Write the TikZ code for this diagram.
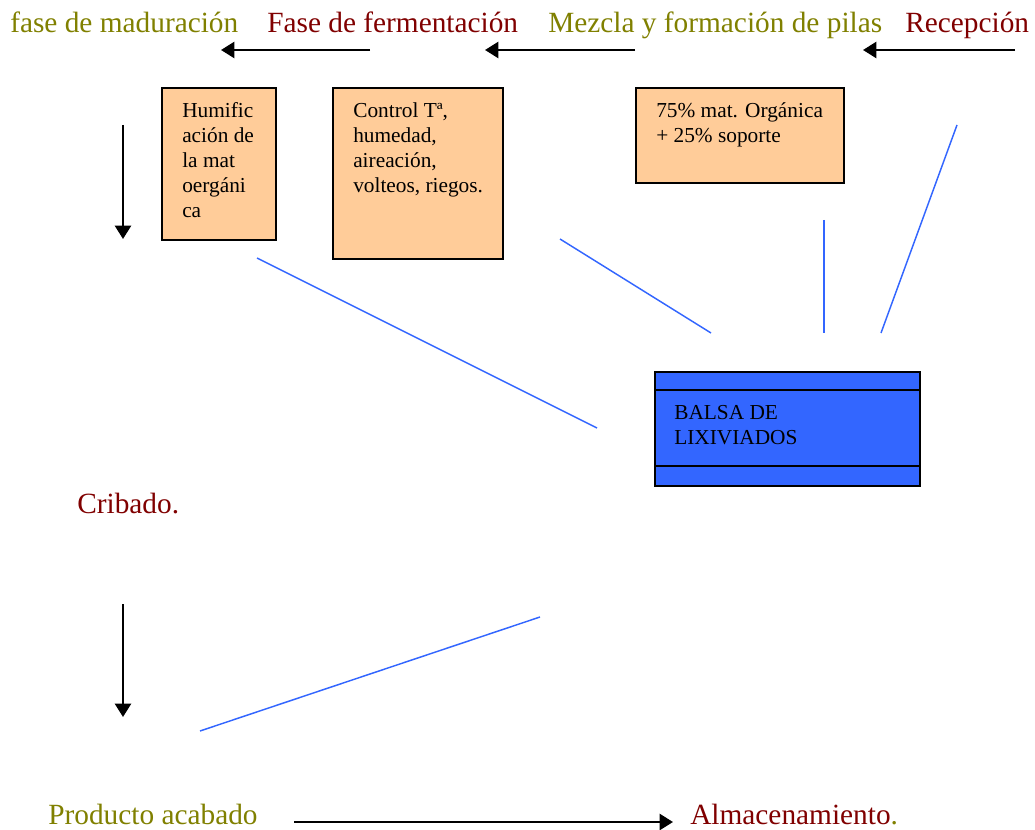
\documentclass[tikz,border=0pt]{standalone}
\usepackage{fontspec}
\setmainfont{Liberation Serif}
\usetikzlibrary{arrows.meta}
\definecolor{olivetxt}{RGB}{128,128,0}
\definecolor{redtxt}{RGB}{128,0,0}
\definecolor{boxfill}{RGB}{255,204,153}
\definecolor{balsafill}{RGB}{51,102,255}
\definecolor{bluelin}{RGB}{51,102,255}
\tikzset{
  stage/.style={anchor=base west, inner sep=0pt, font=\fontsize{22}{26}\selectfont},
  olive/.style={stage, text=olivetxt},
  dred/.style={stage, text=redtxt},
  orangebox/.style={draw=black, line width=1.5pt, fill=boxfill, anchor=north west, inner sep=0pt},
  boxtext/.style={anchor=north west, inner sep=0pt, align=left, font=\fontsize{16}{18.75}\selectfont},
  flow/.style={-{Triangle[length=10pt,width=12pt]}, line width=1.8pt, black},
  leach/.style={bluelin, line width=1.1pt},
}
\begin{document}
\begin{tikzpicture}[x=0.75pt,y=-0.75pt]
\path[use as bounding box] (0,0) rectangle (1035,830);
% top labels
\node[olive] (mad) at (10,33) {fase de maduración};
\node[dred] (fer) at (267,33) {Fase de fermentación};
\node[olive] (mez) at (548,33) {Mezcla y formación de pilas};
\node[dred] (rec) at (905,33) {Recepción};
% top arrows
\coordinate (a1s) at (370,50); \coordinate (a1e) at (221,50);
\coordinate (a2s) at (635,50); \coordinate (a2e) at (485,50);
\coordinate (a3s) at (1015,50); \coordinate (a3e) at (863,50);
\draw[flow] (a1s) -- (a1e);
\draw[flow] (a2s) -- (a2e);
\draw[flow] (a3s) -- (a3e);
% boxes
\node[orangebox, minimum width=114*0.75pt, minimum height=152*0.75pt] (hum) at (161,87) {};
\node[boxtext] (humt) at (182,102) {Humific\\ación de\\la mat\\oergáni\\ca};
\node[orangebox, minimum width=170*0.75pt, minimum height=171*0.75pt] (con) at (332,87) {};
\node[boxtext] (cont) at (353,102) {Control Tª,\\humedad,\\aireación,\\volteos, riegos.};
\node[orangebox, minimum width=208*0.75pt, minimum height=95*0.75pt] (mat) at (635,87) {};
\node[boxtext] (matt) at (656,102) {75\% mat. Orgánica\\+ 25\% soporte};
% balsa
\node[draw=black, line width=1.5pt, fill=balsafill, anchor=north west, inner sep=0pt,
      minimum width=265*0.75pt, minimum height=114*0.75pt] (bal) at (654,371) {};
\draw[line width=1.5pt] (bal.west |- 0,390) -- (bal.east |- 0,390);
\draw[line width=1.5pt] (bal.west |- 0,466) -- (bal.east |- 0,466);
\node[boxtext] (balt) at (674,405) {BALSA DE\\LIXIVIADOS};
% blue leachate lines
\coordinate (l1a) at (257,258); \coordinate (l1b) at (597,428);
\coordinate (l2a) at (560,239); \coordinate (l2b) at (711,333);
\coordinate (l3a) at (824,220); \coordinate (l3b) at (824,333);
\coordinate (l4a) at (957,125); \coordinate (l4b) at (881,333);
\coordinate (l5a) at (540,617); \coordinate (l5b) at (200,731);
\draw[leach] (l1a) -- (l1b);
\draw[leach] (l2a) -- (l2b);
\draw[leach] (l3a) -- (l3b);
\draw[leach] (l4a) -- (l4b);
\draw[leach] (l5a) -- (l5b);
% vertical arrows
\coordinate (v1s) at (123,125); \coordinate (v1e) at (123,239);
\coordinate (v2s) at (123,604); \coordinate (v2e) at (123,717);
\draw[flow] (v1s) -- (v1e);
\draw[flow] (v2s) -- (v2e);
% lower labels
\node[dred] (cri) at (77,513) {Cribado.};
\node[olive] (pro) at (48,824) {Producto acabado};
\node[dred] (alm) at (690,824) {Almacenamiento\textcolor{olivetxt}{.}};
\coordinate (bs) at (294,822); \coordinate (be) at (673,822);
\draw[flow] (bs) -- (be);
\end{tikzpicture}
\end{document}
